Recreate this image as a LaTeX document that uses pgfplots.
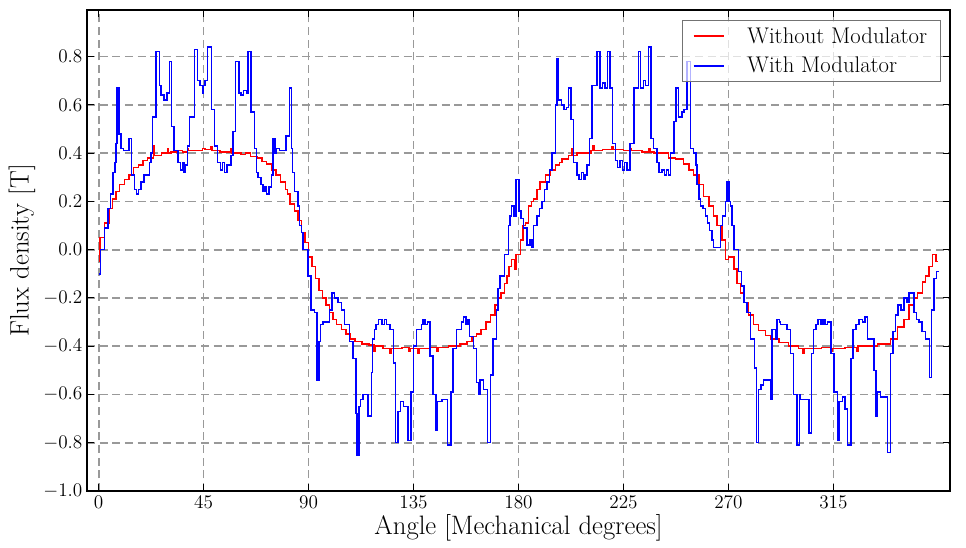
\documentclass[border=0pt]{standalone}
\usepackage{pgfplots}
\pgfplotsset{compat=1.18}
\definecolor{pyred}{RGB}{255,0,0}
\definecolor{pyblue}{RGB}{0,0,255}
\begin{document}
\begin{tikzpicture}
\begin{axis}[
  name=ax,
  scale only axis,
  width=647.25pt, height=360.75pt,
  xmin=-5, xmax=365, ymin=-1, ymax=0.993,
  xtick={0,45,90,135,180,225,270,315},
  ytick={-1,-0.8,-0.6,-0.4,-0.2,0,0.2,0.4,0.6,0.8},
  yticklabel style={/pgf/number format/.cd, fixed, fixed zerofill, precision=1},
  tick label style={font=\fontsize{14}{16}\selectfont},
  tick align=inside,
  major tick length=5pt,
  tick style={black, line width=0.8pt},
  axis line style={black, line width=1pt},
  grid=major,
  major grid style={gray!80, line width=1.3pt, dash pattern=on 6pt off 3.5pt},
  xlabel={Angle [Mechanical degrees]},
  ylabel={Flux density [T]},
  xlabel style={font=\fontsize{20}{23}\selectfont, at={(axis description cs:0.5,-0.077)}, anchor=center},
  ylabel style={font=\fontsize{20}{23}\selectfont, at={(axis description cs:-0.0753,0.5)}, anchor=center, rotate=0},
  legend style={at={(0.9896,0.979)}, anchor=north east, draw=black!55, line width=0.8pt,
    fill=white, fill opacity=0.7, text opacity=1, font=\fontsize{17}{20}\selectfont,
    inner xsep=8pt, inner ysep=3pt, row sep=5pt,
    /tikz/every odd column/.append style={column sep=15pt}},
  legend cell align=left,
  legend image code/.code={\draw[#1] (0cm,0cm) -- (0.8cm,0cm);},
]
\addlegendimage{pyred, line width=1.1pt}
\addlegendentry{Without Modulator}
\addlegendimage{pyblue, line width=1.1pt}
\addlegendentry{With Modulator}
\addplot[const plot, pyred, line width=1.1pt, forget plot] coordinates {
(0,-0.05) (0.5,0.05) (2.5,0.11) (4.5,0.17) (6.0,0.21) (7.5,0.24) (9.0,0.27) (11.0,0.29)
(13.0,0.31) (15.0,0.34) (17.0,0.35) (19.0,0.37) (21.0,0.38) (23.5,0.43) (24.0,0.39)
(27.0,0.40) (29.5,0.42) (30.0,0.40) (31.0,0.405) (34.0,0.41) (36.0,0.405) (38.0,0.42)
(38.5,0.41) (44.5,0.42) (45.5,0.415) (48.0,0.425) (48.5,0.41) (52.0,0.405) (56.5,0.42)
(57.0,0.40) (61.0,0.395) (63.0,0.40) (65.0,0.385) (68.0,0.38) (70.0,0.365) (72.0,0.355)
(74.0,0.33) (76.0,0.31) (78.0,0.28) (80.0,0.25) (81.0,0.23) (82.0,0.19) (84.0,0.16)
(85.5,0.12) (87.0,0.07) (88.5,0.03) (90.0,-0.03) (91.5,-0.07) (93.0,-0.12) (94.5,-0.17)
(96.0,-0.20) (97.5,-0.23) (99.0,-0.26) (100.5,-0.29) (102.0,-0.31) (104.0,-0.33)
(106.0,-0.35) (108.0,-0.37) (110.0,-0.38) (113.0,-0.39) (116.0,-0.395) (118.0,-0.42)
(118.5,-0.40) (122.0,-0.41) (125.0,-0.43) (125.5,-0.41) (130.0,-0.405) (133.0,-0.42)
(133.5,-0.41) (137.0,-0.43) (137.5,-0.41) (142.0,-0.405) (145.0,-0.42) (145.5,-0.405)
(150.0,-0.40) (155.0,-0.39) (158.0,-0.38) (160.0,-0.36) (162.0,-0.35) (164.0,-0.33)
(166.0,-0.30) (168.0,-0.27) (170.0,-0.23) (171.0,-0.20) (172.5,-0.18) (174.0,-0.14)
(175.0,-0.11) (176.0,-0.07) (177.0,-0.04) (178.5,-0.08) (179.0,-0.02) (180.8,0.04)
(182.0,0.10) (183.0,0.11) (184.3,0.18) (185.5,0.20) (186.5,0.21) (188.0,0.25)
(189.3,0.28) (191.5,0.31) (193.6,0.33) (195.8,0.35) (197.5,0.36) (198.6,0.375)
(201.5,0.39) (203.0,0.42) (203.5,0.39) (205.0,0.40) (211.0,0.41) (212.0,0.43)
(212.5,0.41) (216.0,0.415) (220.0,0.425) (220.5,0.415) (225.0,0.41) (228.0,0.42)
(228.5,0.41) (233.0,0.405) (236.0,0.42) (236.5,0.405) (238.0,0.40) (244.4,0.38)
(247.3,0.375) (250.8,0.355) (253.0,0.33) (255.1,0.31) (257.3,0.27) (259.4,0.22)
(261.6,0.18) (263.7,0.14) (265.1,0.10) (267.3,0.04) (268.7,-0.04) (270.1,-0.03)
(272.3,-0.08) (273.7,-0.14) (275.1,-0.18) (276.6,-0.22) (278.7,-0.27) (280.8,-0.31)
(283.0,-0.335) (285.8,-0.355) (288.0,-0.37) (291.6,-0.385) (295.8,-0.40) (300.0,-0.41)
(302.0,-0.43) (302.5,-0.41) (310.0,-0.405) (314.0,-0.42) (314.5,-0.41) (320.0,-0.405)
(325.0,-0.42) (325.5,-0.40) (330.0,-0.40) (334.0,-0.39) (339.6,-0.37) (342.5,-0.32)
(345.3,-0.29) (347.5,-0.23) (349.6,-0.20) (351.0,-0.18) (353.2,-0.135) (354.6,-0.11)
(356.0,-0.07) (357.5,-0.02) (358.9,-0.05) (360.0,-0.05)
};
\addplot[const plot, pyblue, line width=1.1pt, forget plot] coordinates {
(0,-0.10) (0.7,0.0) (2.4,0.09) (4.1,0.17) (5.0,0.23) (6.1,0.32) (7.0,0.36) (7.4,0.44)
(7.9,0.67) (8.8,0.48) (9.6,0.42) (10.7,0.41) (13.1,0.46) (14.1,0.31) (15.3,0.25)
(16.2,0.23) (17.0,0.25) (18.1,0.28) (19.5,0.31) (21.7,0.36) (22.5,0.40) (23.1,0.55)
(24.6,0.82) (26.0,0.68) (26.7,0.64) (28.0,0.62) (29.3,0.65) (30.3,0.78) (31.3,0.51)
(32.4,0.41) (34.0,0.36) (35.0,0.33) (36.0,0.36) (36.6,0.32) (37.3,0.35) (38.0,0.43)
(39.0,0.55) (41.0,0.83) (42.4,0.70) (43.5,0.68) (44.5,0.65) (45.0,0.68) (45.6,0.70)
(46.7,0.84) (48.4,0.58) (49.6,0.43) (51.0,0.36) (52.3,0.33) (53.2,0.36) (54.0,0.32)
(55.0,0.35) (56.7,0.39) (57.6,0.49) (58.7,0.78) (60.1,0.65) (61.0,0.64) (62.0,0.66)
(63.3,0.65) (64.0,0.82) (65.4,0.57) (66.9,0.42) (67.6,0.32) (68.3,0.30) (69.5,0.27)
(70.5,0.24) (71.3,0.26) (72.0,0.23) (73.0,0.26) (74.0,0.31) (74.8,0.46) (75.6,0.40)
(76.3,0.42) (77.6,0.41) (80.4,0.47) (81.9,0.67) (82.7,0.42) (83.2,0.32) (84.0,0.24)
(85.4,0.18) (86.2,0.10) (86.9,0.07) (87.6,0.0) (89.7,-0.11) (91.1,-0.25) (92.6,-0.26)
(93.6,-0.54) (94.4,-0.38) (95.2,-0.31) (96.1,-0.30) (99.0,-0.25) (100.0,-0.18)
(101.1,-0.20) (102.6,-0.22) (104.0,-0.25) (105.4,-0.31) (107.6,-0.38) (109.0,-0.45)
(110.4,-0.68) (110.8,-0.85) (111.6,-0.65) (112.2,-0.62) (113.3,-0.60) (115.4,-0.69)
(116.9,-0.51) (117.5,-0.37) (118.3,-0.33) (119.0,-0.31) (120.0,-0.29) (121.5,-0.31)
(122.5,-0.29) (123.5,-0.31) (124.9,-0.33) (126.3,-0.47) (127.3,-0.80) (128.4,-0.67)
(129.5,-0.63) (130.6,-0.65) (132.7,-0.79) (133.9,-0.59) (134.9,-0.40) (136.3,-0.33)
(138.4,-0.31) (139.0,-0.29) (140.0,-0.31) (141.0,-0.30) (142.0,-0.44) (143.4,-0.60)
(144.6,-0.75) (145.3,-0.63) (147.3,-0.62) (149.6,-0.81) (151.0,-0.59) (152.0,-0.41)
(153.4,-0.33) (155.6,-0.30) (156.5,-0.28) (157.5,-0.31) (158.3,-0.29) (159.1,-0.36)
(160.6,-0.41) (162.0,-0.55) (162.8,-0.60) (163.4,-0.54) (164.9,-0.58) (166.7,-0.80)
(168.1,-0.52) (169.1,-0.37) (170.6,-0.25) (171.3,-0.16) (172.0,-0.11) (174.1,-0.02)
(175.6,0.10) (176.3,0.14) (177.0,0.18) (178.0,0.14) (179.0,0.29) (180.2,0.16)
(181.0,0.13) (182.2,0.09) (183.6,0.02) (185.0,0.04) (185.8,0.01) (186.5,0.10)
(187.9,0.14) (189.0,0.17) (190.0,0.20) (191.2,0.25) (192.2,0.28) (193.3,0.33)
(194.3,0.40) (195.8,0.60) (196.5,0.79) (197.2,0.62) (198.5,0.60) (199.5,0.58)
(200.5,0.59) (201.5,0.67) (202.5,0.54) (203.6,0.36) (205.0,0.31) (206.0,0.29)
(207.0,0.32) (207.8,0.29) (208.5,0.31) (209.3,0.35) (210.5,0.46) (211.5,0.68)
(213.6,0.82) (215.0,0.67) (216.0,0.69) (217.0,0.67) (218.2,0.82) (219.3,0.67)
(220.3,0.44) (221.5,0.37) (222.5,0.34) (223.5,0.37) (224.5,0.33) (225.5,0.36)
(226.5,0.33) (227.9,0.44) (229.6,0.67) (231.5,0.82) (232.2,0.67) (233.5,0.70)
(234.5,0.68) (235.8,0.84) (236.8,0.46) (237.9,0.42) (239.3,0.36) (240.3,0.32)
(241.6,0.33) (242.5,0.31) (243.5,0.33) (244.3,0.31) (245.1,0.40) (246.6,0.53)
(247.6,0.67) (248.7,0.55) (250.0,0.57) (251.0,0.58) (252.3,0.78) (253.7,0.42)
(255.1,0.40) (256.0,0.35) (256.6,0.27) (257.3,0.21) (258.0,0.18) (259.0,0.17)
(260.1,0.14) (261.0,0.11) (262.0,0.08) (263.0,0.04) (263.7,0.01) (266.6,0.10)
(267.5,0.14) (268.7,0.20) (269.3,0.28) (270.3,0.20) (270.8,0.18) (271.5,0.10)
(272.3,0.0) (274.4,-0.09) (275.5,-0.15) (276.6,-0.22) (278.0,-0.26) (279.4,-0.37)
(281.1,-0.49) (282.0,-0.80) (283.0,-0.58) (284.0,-0.56) (285.1,-0.54) (288.0,-0.62)
(288.7,-0.33) (290.1,-0.37) (290.8,-0.29) (291.8,-0.30) (292.3,-0.31) (295.1,-0.33)
(296.6,-0.43) (298.0,-0.60) (299.4,-0.81) (300.4,-0.60) (301.0,-0.62) (304.6,-0.76)
(305.6,-0.43) (306.5,-0.33) (307.5,-0.31) (308.5,-0.29) (309.6,-0.31) (310.5,-0.29)
(311.5,-0.31) (312.5,-0.30) (313.9,-0.43) (315.3,-0.59) (316.7,-0.79) (317.5,-0.63)
(319.0,-0.61) (320.0,-0.66) (321.0,-0.81) (322.5,-0.45) (323.5,-0.33) (324.6,-0.31)
(326.0,-0.29) (327.5,-0.30) (328.5,-0.28) (329.6,-0.37) (332.5,-0.50) (333.3,-0.69)
(333.9,-0.59) (335.3,-0.61) (338.2,-0.84) (339.6,-0.43) (340.5,-0.34) (341.7,-0.27)
(342.8,-0.23) (343.9,-0.25) (345.3,-0.20) (346.5,-0.22) (347.5,-0.18) (349.6,-0.26)
(350.7,-0.29) (351.7,-0.30) (353.0,-0.34) (354.6,-0.37) (356.3,-0.53) (357.0,-0.25)
(358.2,-0.12) (359.3,-0.09) (360.3,-0.09)
};
\end{axis}
\pgfresetboundingbox
\path[use as bounding box] ([shift={(-65.25pt,-42.75pt)}]ax.south west) rectangle ([shift={(12pt,7.5pt)}]ax.north east);
\end{tikzpicture}
\end{document}
